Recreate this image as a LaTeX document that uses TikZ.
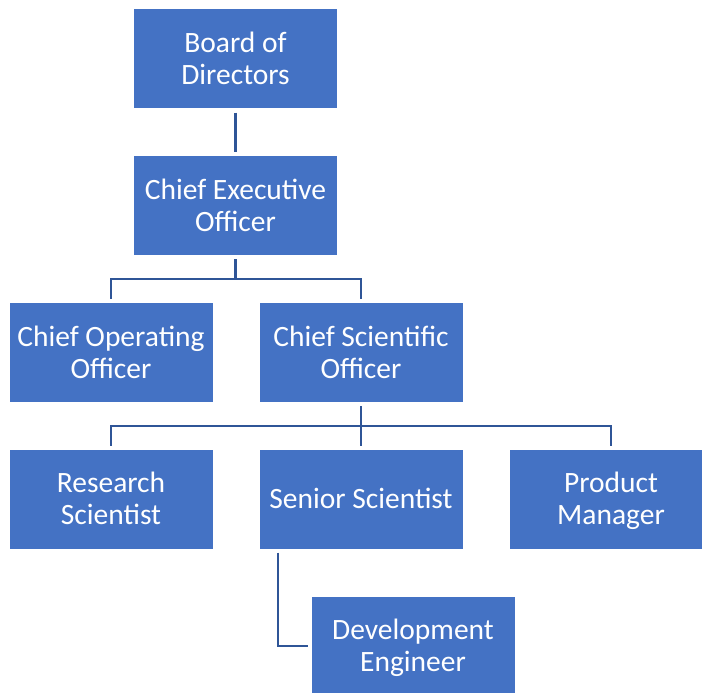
\documentclass[tikz,border=0pt]{standalone}
\usepackage{fontspec}
\setmainfont{Carlito}
\definecolor{boxfill}{HTML}{4472C4}
\definecolor{linkcol}{HTML}{2F5597}
% one line of a box label, with a fixed height and depth, set slightly low
\newcommand{\boxline}[1]{\raisebox{-3pt}[0pt][0pt]{#1}\vphantom{Ag}}
\begin{document}
\begin{tikzpicture}[x=1pt,y=-1pt,
  role/.style={rectangle, fill=boxfill, draw=white, line width=1pt,
    minimum width=204pt, minimum height=100pt, inner sep=0pt,
    align=center, text=white, font=\fontsize{29.5}{32}\selectfont},
  link/.style={draw=linkcol, line width=2.6pt, shorten <=3pt, shorten >=3pt}]
\useasboundingbox (0,0) rectangle (702,693);
\clip (0,0) rectangle (702,693);
% boxes
\node[role] (board)    at (235.5, 59)   {\boxline{Board of}\\\boxline{Directors}};
\node[role] (ceo)      at (235.5, 205.5){\boxline{Chief Executive}\\\boxline{Officer}};
\node[role] (coo)      at (111, 352.5)  {\boxline{Chief Operating}\\\boxline{Officer}};
\node[role] (cso)      at (361, 352.5)  {\boxline{Chief Scientific}\\\boxline{Officer}};
\node[role] (research) at (111, 499)    {\boxline{Research}\\\boxline{Scientist}};
\node[role] (senior)   at (361, 499)    {\boxline{Senior Scientist}};
\node[role] (product)  at (611, 499)    {\boxline{Product}\\\boxline{Manager}};
\node[role] (dev)      at (413, 646)    {\boxline{Development}\\\boxline{Engineer}};
% reporting lines
\draw[link] (board.south) -- (ceo.north);
\draw[link, shorten >=0pt] (ceo.south) -- ++(0,23) coordinate (c1);
\draw[link, shorten <=0pt] (c1) -| (coo.north);
\draw[link, shorten <=0pt] (c1) -| (cso.north);
\draw[link, shorten >=0pt] (cso.south) -- ++(0,23) coordinate (c2);
\draw[link, shorten <=0pt] (c2) -| (research.north);
\draw[link, shorten <=0pt] (c2) -- (senior.north);
\draw[link, shorten <=0pt] (c2) -| (product.north);
\draw[link] ([xshift=-83pt]senior.south) |- (dev.west);
\end{tikzpicture}
\end{document}
